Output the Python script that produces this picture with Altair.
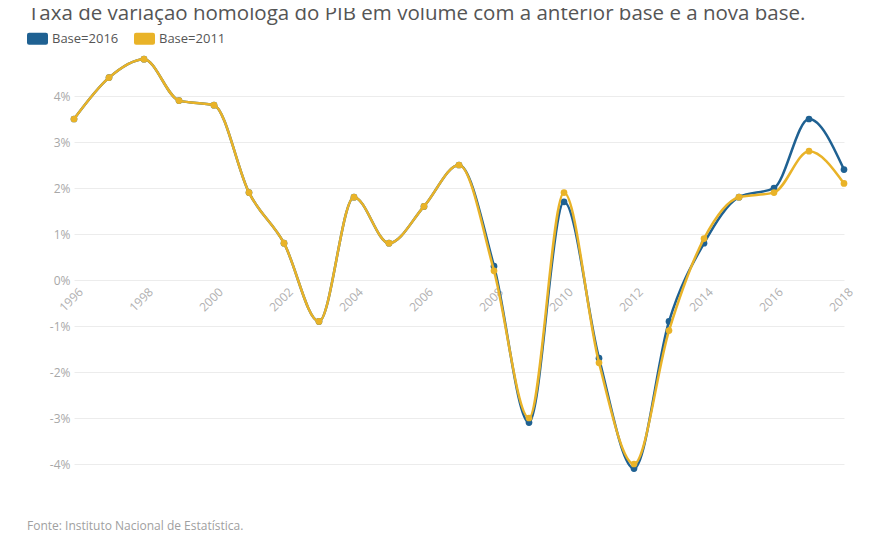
import pandas as pd
import altair as alt

FONT = "Open Sans"

# valores (taxa de variação homóloga do PIB, %)
anos = list(range(1996, 2019))
base_2016 = [3.5, 4.4, 4.8, 3.9, 3.8, 1.9, 0.8, -0.9, 1.8, 0.8, 1.6, 2.5,
             0.3, -3.1, 1.7, -1.7, -4.1, -0.9, 0.8, 1.8, 2.0, 3.5, 2.4]
base_2011 = [3.5, 4.4, 4.8, 3.9, 3.8, 1.9, 0.8, -0.9, 1.8, 0.8, 1.6, 2.5,
             0.2, -3.0, 1.9, -1.8, -4.0, -1.1, 0.9, 1.8, 1.9, 2.8, 2.1]
series = ["Base=2016", "Base=2011"]
cores = ["#1f6192", "#e9b328"]
y_ticks = [-4, -3, -2, -1, 0, 1, 2, 3, 4]
x_ticks = list(range(1996, 2019, 2))

titulo = "Taxa de variação homóloga do PIB em volume com a anterior base e a nova base."
fonte = "Fonte: Instituto Nacional de Estatística."

df = pd.concat([
    pd.DataFrame({"ano": anos, "taxa": base_2016, "serie": series[0]}),
    pd.DataFrame({"ano": anos, "taxa": base_2011, "serie": series[1]}),
])

# rounded swatch for the legend
swatch = ("M-0.8,-0.57 L0.8,-0.57 Q1,-0.57 1,-0.37 L1,0.37 Q1,0.57 0.8,0.57 "
          "L-0.8,0.57 Q-1,0.57 -1,0.37 L-1,-0.37 Q-1,-0.57 -0.8,-0.57 Z")

x = alt.X(
    "ano:Q",
    scale=alt.Scale(domain=[1996, 2018], nice=False, zero=False),
    axis=alt.Axis(values=x_ticks, format="d", labelAngle=-45, offset=-230,
                  grid=False, domain=False, ticks=False, labelPadding=6,
                  labelOffset=3, labelFlush=False, labelOverlap=False,
                  labelColor="#b0b0b0", labelFontSize=12, labelFont=FONT,
                  title=None),
)
y = alt.Y(
    "taxa:Q",
    scale=alt.Scale(domain=[-5, 5], nice=False),
    axis=alt.Axis(values=y_ticks, labelExpr="datum.value + '%'", grid=True,
                  gridColor="#ececec", domain=False, ticks=False,
                  labelPadding=4, labelColor="#a8a8a8", labelFontSize=12,
                  labelFont=FONT, title=None),
)
color = alt.Color(
    "serie:N",
    scale=alt.Scale(domain=series, range=cores),
    legend=alt.Legend(orient="none", legendX=-47, legendY=-22,
                      direction="horizontal", title=None, symbolType=swatch,
                      symbolSize=441, symbolStrokeWidth=0, labelFont=FONT,
                      labelFontSize=13, labelColor="#555555", labelOffset=4,
                      columnPadding=15, padding=0),
)

base = alt.Chart(df).encode(x=x, y=y, color=color)

azul = base.transform_filter(alt.datum.serie == series[0])
amarelo = base.transform_filter(alt.datum.serie == series[1])

linha_azul = azul.mark_line(interpolate="monotone", strokeWidth=2.5)
pontos_azul = azul.mark_circle(size=45, opacity=1)
linha_amarela = amarelo.mark_line(interpolate="monotone", strokeWidth=2.5)
pontos_amarelo = amarelo.mark_circle(size=45, opacity=1)

# título (cortado no topo, como no original) e nota de fonte
cabecalho = (
    alt.Chart(pd.DataFrame({"t": [titulo]}))
    .mark_text(align="left", baseline="alphabetic", font=FONT, fontSize=20.5,
               color="#555555")
    .encode(x=alt.value(-46), y=alt.value(-30), text="t:N")
)
nota = (
    alt.Chart(pd.DataFrame({"t": [fonte]}))
    .mark_text(align="left", baseline="alphabetic", font=FONT, fontSize=12,
               color="#a0a0a0")
    .encode(x=alt.value(-47), y=alt.value(480), text="t:N")
)

chart = (
    alt.layer(linha_azul, pontos_azul, linha_amarela, pontos_amarelo,
              cabecalho, nota)
    .properties(
        width=770, height=460,
        autosize=alt.AutoSizeParams(type="none"),
        padding={"left": 66, "top": 42, "right": 18, "bottom": 26},
        background="white",
    )
    .configure_view(strokeWidth=0)
)

chart.save("out.html", embed_options={"renderer": "svg", "actions": False})
